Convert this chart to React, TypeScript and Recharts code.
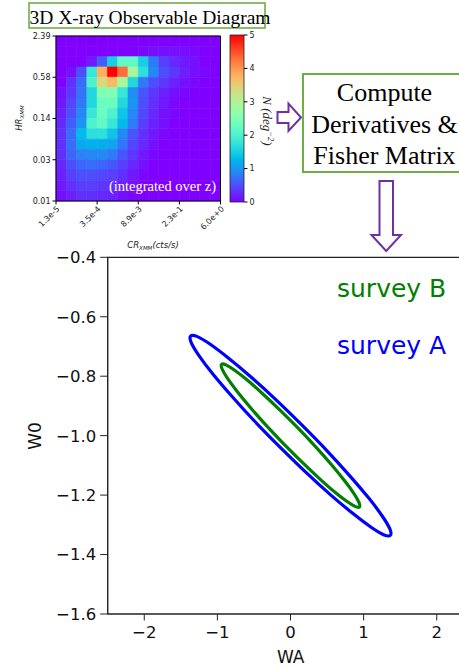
import React from "react";
import { ComposedChart, XAxis, YAxis, Line, ReferenceArea } from "recharts";

const SANS = "DejaVu Sans, sans-serif";
const SERIF = "Liberation Serif, Times New Roman, serif";
const PURPLE = "#7030a0";
const BOX_GREEN = "#70ad47";

// heatmap axes: 16 x 16 bins, labels on every 4th edge
const BIN_TICKS = [0, 4, 8, 12, 16];
const CR_LABELS = ["1.3e-5", "3.5e-4", "8.9e-3", "2.3e-1", "6.0e+0"];
const HR_LABELS = ["0.01", "0.03", "0.14", "0.58", "2.39"];
const N_TICKS = [0, 1, 2, 3, 4, 5];

// N (deg^-2) per bin, rows from high HR (top) to low HR, columns low CR -> high CR
const DENSITY: number[][] = [
  [0, 0, 0, 0, 0, 0, 0, 0, 0, 0, 0, 0, 0, 0, 0, 0],
  [0, 0, 0, 0, 0, 0, 0, 0, 0.05, 0.1, 0.1, 0.1, 0.08, 0.05, 0, 0],
  [0, 0, 0, 0.15, 0.6, 1.5, 2.2, 2.2, 1.5, 0.8, 0.4, 0.25, 0.15, 0.1, 0, 0],
  [0, 0.1, 0.5, 1.8, 3.8, 5.0, 4.3, 2.9, 1.7, 0.9, 0.5, 0.35, 0.2, 0.1, 0.05, 0],
  [0, 0.3, 0.7, 2.0, 3.4, 3.7, 2.9, 1.6, 0.8, 0.5, 0.35, 0.2, 0.1, 0.05, 0, 0],
  [0.1, 0.35, 0.75, 1.6, 2.5, 2.5, 1.8, 0.95, 0.55, 0.35, 0.2, 0.1, 0.05, 0, 0, 0],
  [0.15, 0.45, 0.8, 1.6, 2.3, 2.3, 1.6, 1.0, 0.5, 0.3, 0.15, 0.05, 0, 0, 0, 0],
  [0.2, 0.5, 0.9, 1.8, 2.3, 2.0, 1.4, 0.9, 0.45, 0.25, 0.1, 0.05, 0, 0, 0, 0],
  [0.25, 0.6, 1.0, 2.0, 2.2, 1.8, 1.3, 0.8, 0.4, 0.2, 0.1, 0, 0, 0, 0, 0],
  [0.3, 0.7, 1.3, 1.7, 1.7, 1.4, 0.9, 0.55, 0.3, 0.15, 0.05, 0, 0, 0, 0, 0],
  [0.3, 0.7, 1.15, 1.2, 1.2, 1.1, 0.75, 0.45, 0.25, 0.1, 0, 0, 0, 0, 0, 0],
  [0.3, 0.65, 0.85, 0.9, 0.9, 0.8, 0.55, 0.35, 0.15, 0.05, 0, 0, 0, 0, 0, 0],
  [0.25, 0.5, 0.65, 0.7, 0.65, 0.55, 0.4, 0.25, 0.1, 0, 0, 0, 0, 0, 0, 0],
  [0.2, 0.4, 0.5, 0.5, 0.45, 0.4, 0.3, 0.15, 0.05, 0, 0, 0, 0, 0, 0, 0],
  [0.15, 0.3, 0.4, 0.4, 0.35, 0.3, 0.2, 0.1, 0, 0, 0, 0, 0, 0, 0, 0],
  [0.1, 0.2, 0.3, 0.3, 0.25, 0.2, 0.1, 0.05, 0, 0, 0, 0, 0, 0, 0, 0],
];

// Fisher forecast panel
const WA_TICKS = [-2, -1, 0, 1, 2];
const W0_TICKS = [-1.6, -1.4, -1.2, -1.0, -0.8, -0.6, -0.4];

// contour outlines, (wa, w0)
const SURVEY_A = [
  { x: -0.151, y: -1.037 }, { x: -0.5, y: -0.949 }, { x: -0.814, y: -0.864 },
  { x: -1.073, y: -0.789 }, { x: -1.259, y: -0.728 }, { x: -1.359, y: -0.686 },
  { x: -1.366, y: -0.665 }, { x: -1.281, y: -0.666 }, { x: -1.107, y: -0.691 },
  { x: -0.859, y: -0.737 }, { x: -0.552, y: -0.8 }, { x: -0.208, y: -0.877 },
  { x: 0.151, y: -0.963 }, { x: 0.5, y: -1.051 }, { x: 0.814, y: -1.136 },
  { x: 1.073, y: -1.211 }, { x: 1.259, y: -1.272 }, { x: 1.359, y: -1.314 },
  { x: 1.366, y: -1.335 }, { x: 1.281, y: -1.334 }, { x: 1.107, y: -1.309 },
  { x: 0.859, y: -1.263 }, { x: 0.552, y: -1.2 }, { x: 0.208, y: -1.123 },
  { x: -0.151, y: -1.037 },
];
const SURVEY_B = [
  { x: -0.104, y: -1.025 }, { x: -0.345, y: -0.962 }, { x: -0.561, y: -0.902 },
  { x: -0.74, y: -0.848 }, { x: -0.868, y: -0.805 }, { x: -0.937, y: -0.775 },
  { x: -0.942, y: -0.76 }, { x: -0.883, y: -0.762 }, { x: -0.764, y: -0.78 },
  { x: -0.592, y: -0.813 }, { x: -0.381, y: -0.859 }, { x: -0.144, y: -0.914 },
  { x: 0.104, y: -0.975 }, { x: 0.345, y: -1.038 }, { x: 0.561, y: -1.098 },
  { x: 0.74, y: -1.152 }, { x: 0.868, y: -1.195 }, { x: 0.937, y: -1.225 },
  { x: 0.942, y: -1.24 }, { x: 0.883, y: -1.238 }, { x: 0.764, y: -1.22 },
  { x: 0.592, y: -1.187 }, { x: 0.381, y: -1.141 }, { x: 0.144, y: -1.086 },
  { x: -0.104, y: -1.025 },
];

// matplotlib "rainbow" colormap, vmin 0 vmax 5
function rainbow(v: number) {
  const t = Math.max(0, Math.min(1, v / 5));
  const r = Math.min(1, Math.abs(2 * t - 0.5));
  const g = Math.sin(Math.PI * t);
  const b = Math.cos((Math.PI / 2) * t);
  return `rgb(${Math.round(r * 255)},${Math.round(g * 255)},${Math.round(b * 255)})`;
}

const minus = (v: number, digits: number) =>
  (v < 0 ? "\u2212" : "") + Math.abs(v).toFixed(digits);

function CrTick(props: any) {
  const { x, y, payload } = props;
  const label = CR_LABELS[BIN_TICKS.indexOf(payload.value)];
  const ax = x + 2;
  const ay = y + 1;
  return (
    <text
      x={ax}
      y={ay}
      dy="0.35em"
      transform={`rotate(-45 ${ax} ${ay})`}
      textAnchor="end"
      fontSize={8}
      fontFamily={SANS}
      fill="#222"
    >
      {label}
    </text>
  );
}

function Heatmap() {
  const cells = DENSITY.flatMap((row, r) =>
    row.map((v, c) => ({ c, r: DENSITY.length - 1 - r, v }))
  );
  const tickStyle = { fontSize: 8, fill: "#222", fontFamily: SANS };
  return (
    <ComposedChart
      width={225}
      height={250}
      data={cells}
      margin={{ top: 36, right: 4.5, bottom: 0, left: 16 }}
      style={{ position: "absolute", left: 0, top: 0 }}
    >
      <XAxis
        type="number"
        dataKey="c"
        domain={[0, 16]}
        ticks={BIN_TICKS}
        interval={0}
        height={49}
        tickSize={3.5}
        axisLine={false}
        tickLine={{ stroke: "#000" }}
        tick={<CrTick />}
      />
      <YAxis
        type="number"
        dataKey="r"
        domain={[0, 16]}
        ticks={BIN_TICKS}
        interval={0}
        width={40}
        tickSize={3.5}
        tickMargin={2}
        axisLine={false}
        tickLine={{ stroke: "#000" }}
        tick={tickStyle}
        tickFormatter={(v: number) => HR_LABELS[BIN_TICKS.indexOf(v)]}
      />
      {cells.map((cell) => (
        <ReferenceArea
          key={`${cell.c}-${cell.r}`}
          x1={cell.c}
          x2={cell.c + 1}
          y1={cell.r}
          y2={cell.r + 1}
          fill={rainbow(cell.v)}
          fillOpacity={1}
          stroke={rainbow(cell.v)}
          strokeWidth={0.6}
        />
      ))}
      <ReferenceArea x1={0} x2={16} y1={0} y2={16} fill="none" fillOpacity={0} stroke="#000" strokeWidth={1} />
    </ComposedChart>
  );
}

function ColorBar() {
  const scale = [
    { x: 0, n: 0 },
    { x: 1, n: 5 },
  ];
  return (
    <ComposedChart
      width={50}
      height={220}
      data={scale}
      margin={{ top: 35, right: 0, bottom: 18, left: 5 }}
      style={{ position: "absolute", left: 225, top: 0 }}
    >
      <XAxis type="number" dataKey="x" domain={[0, 1]} height={0} tick={false} axisLine={false} tickLine={false} />
      <YAxis
        type="number"
        dataKey="n"
        orientation="right"
        domain={[0, 5]}
        ticks={N_TICKS}
        interval={0}
        width={31}
        tickSize={3.5}
        tickMargin={2}
        axisLine={false}
        tickLine={{ stroke: "#000" }}
        tick={{ fontSize: 8, fill: "#222", fontFamily: SANS }}
      />
      <ReferenceArea x1={0} x2={1} y1={0} y2={5} fill="url(#rainbowBar)" fillOpacity={1} stroke="#222" strokeWidth={0.8} />
    </ComposedChart>
  );
}

function Forecast() {
  const tickStyle = { fontSize: 16.5, fill: "#111", fontFamily: SANS };
  return (
    <ComposedChart
      width={480}
      height={426}
      margin={{ top: 17.3, right: 6.7, bottom: 0, left: 0 }}
      style={{ position: "absolute", left: 0, top: 240 }}
    >
      <XAxis
        type="number"
        dataKey="x"
        domain={[-2.5, 2.5]}
        ticks={WA_TICKS}
        interval={0}
        height={52}
        tickSize={6.5}
        tickMargin={6}
        axisLine={{ stroke: "#222" }}
        tickLine={{ stroke: "#222" }}
        tick={tickStyle}
        tickFormatter={(v: number) => minus(v, 0)}
        allowDataOverflow
      />
      <YAxis
        type="number"
        dataKey="y"
        domain={[-1.6, -0.4]}
        ticks={W0_TICKS}
        interval={0}
        width={107.7}
        tickSize={7.5}
        tickMargin={4}
        axisLine={{ stroke: "#222" }}
        tickLine={{ stroke: "#222" }}
        tick={tickStyle}
        tickFormatter={(v: number) => minus(v, 1)}
        allowDataOverflow
      />
      <ReferenceArea x1={-2.5} x2={2.5} y1={-1.6} y2={-0.4} fill="none" fillOpacity={0} stroke="#222" strokeWidth={1.2} />
      <Line
        data={SURVEY_A}
        dataKey="y"
        type="natural"
        stroke="#0000ff"
        strokeWidth={3.2}
        dot={false}
        activeDot={false}
        isAnimationActive={false}
      />
      <Line
        data={SURVEY_B}
        dataKey="y"
        type="natural"
        stroke="#008000"
        strokeWidth={3.2}
        dot={false}
        activeDot={false}
        isAnimationActive={false}
      />
    </ComposedChart>
  );
}

function Annotations() {
  const stops = Array.from({ length: 21 }, (_, i) => i / 20);
  return (
    <svg
      width={459}
      height={666}
      style={{ position: "absolute", left: 0, top: 0, pointerEvents: "none" }}
    >
      <defs>
        <linearGradient id="rainbowBar" x1="0" y1="1" x2="0" y2="0">
          {stops.map((s) => (
            <stop key={s} offset={s} stopColor={rainbow(s * 5)} />
          ))}
        </linearGradient>
      </defs>

      {/* title */}
      <rect x={29} y={3} width={236} height={25} fill="#fff" stroke={BOX_GREEN} strokeWidth={1.6} />
      <text x={29.5} y={24} fontFamily={SERIF} fontSize={19.5} fill="#000">
        3D X-ray Observable Diagram
      </text>

      {/* heatmap labels */}
      <text x={216} y={191} textAnchor="end" fontFamily={SERIF} fontSize={14.5} fill="#fff">
        (integrated over z)
      </text>
      <text
        x={22}
        y={118}
        transform="rotate(-90 22 118)"
        textAnchor="middle"
        fontFamily={SANS}
        fontStyle="italic"
        fontSize={8.5}
        fill="#222"
      >
        HR<tspan fontSize={5.5} dy={2}>XMM</tspan>
      </text>
      <text x={153} y={248} textAnchor="middle" fontFamily={SANS} fontStyle="italic" fontSize={8.5} fill="#222">
        CR<tspan fontSize={5.5} dy={2}>XMM</tspan>
        <tspan dy={-2}>(cts/s)</tspan>
      </text>
      <text
        x={263}
        y={121}
        transform="rotate(90 263 121)"
        textAnchor="middle"
        fontFamily={SERIF}
        fontStyle="italic"
        fontSize={13}
        fill="#222"
      >
        N (deg<tspan fontSize={8.5} dy={-5}>{"\u22122"}</tspan>
        <tspan dy={5}>)</tspan>
      </text>

      {/* flow */}
      <polygon
        points="277.5,112 288.5,112 288.5,103.5 301,117.5 288.5,131 288.5,123 277.5,123"
        fill="#fff"
        stroke={PURPLE}
        strokeWidth={2}
        strokeLinejoin="miter"
      />
      <rect x={303} y={74} width={163} height={98} fill="#fff" stroke={BOX_GREEN} strokeWidth={2} />
      <g fontFamily={SERIF} fontSize={26} fill="#000" textAnchor="middle">
        <text x={384.5} y={100.5}>Compute</text>
        <text x={384.5} y={133}>Derivatives &amp;</text>
        <text x={384.5} y={164}>Fisher Matrix</text>
      </g>
      <polygon
        points="379.5,181 393,181 393,235 401,235 386.2,251 371.5,235 379.5,235"
        fill="#fff"
        stroke={PURPLE}
        strokeWidth={2}
      />

      {/* forecast legend and axis titles */}
      <text x={337} y={297} fontFamily={SANS} fontSize={25} fill="#008000">
        survey B
      </text>
      <text x={337} y={354} fontFamily={SANS} fontSize={25} fill="#0000ff">
        survey A
      </text>
      <text x={290.7} y={663} textAnchor="middle" fontFamily={SANS} fontSize={17} fill="#111">
        WA
      </text>
      <text
        x={41}
        y={436}
        transform="rotate(-90 41 436)"
        textAnchor="middle"
        fontFamily={SANS}
        fontSize={17}
        fill="#111"
      >
        W0
      </text>
    </svg>
  );
}

export default function App() {
  return (
    <div
      style={{
        position: "absolute",
        left: 0,
        top: 0,
        width: 459,
        height: 666,
        overflow: "hidden",
        background: "#fff",
      }}
    >
      <Heatmap />
      <ColorBar />
      <Forecast />
      <Annotations />
    </div>
  );
}
